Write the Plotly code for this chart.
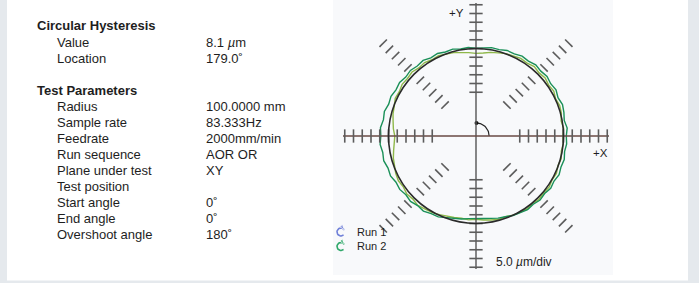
import numpy as np
import plotly.graph_objects as go

# ---------------- data ----------------
angles_deg = list(range(0, 360, 5))
run1_dev_um = [-0.4, 0.3, -0.6, 0.5, 0.9, 0.2, 1.3, 0.7, 1.6, 1.0, 1.8, 0.9, 1.2, 0.3, 0.1, -0.8, -1.5, -2.4,
               -2.8, -2.2, -1.6, -0.7, -0.2, 0.6, 0.3, 1.2, 0.8, 1.7, 1.1, 1.5, 0.6, 0.9, -0.3, -0.9, -1.9, -2.6,
               -3.6, -3.0, -2.2, -1.1, -0.3, 0.6, 1.2, 0.7, 1.6, 1.0, 1.8, 0.9, 0.4, -0.4, -1.1, -1.8, -2.3, -1.9,
               -2.4, -1.8, -1.3, -0.6, -0.9, -0.1, 0.4, 0.9, 0.3, 1.1, 0.5, 1.0, 0.2, 0.7, -0.2, 0.4, -0.5, 0.1]
run2_dev_um = [1.6, 2.3, 1.2, 2.0, 2.6, 1.7, 2.8, 2.1, 3.0, 2.4, 3.1, 2.2, 2.7, 1.8, 2.0, 1.1, 1.3, 0.4,
               0.2, 0.8, 0.5, 1.4, 1.1, 2.0, 1.6, 2.7, 2.2, 3.0, 2.4, 3.3, 2.8, 3.6, 3.1, 4.2, 3.7, 4.8,
               4.4, 5.0, 4.1, 4.6, 3.5, 3.9, 2.8, 3.2, 2.3, 2.9, 1.9, 2.4, 1.2, 1.0, -0.2, -1.0, -1.8, -2.6,
               -3.0, -2.7, -2.2, -1.4, -0.9, 0.1, 0.6, 1.4, 0.9, 1.8, 1.2, 2.1, 1.5, 2.4, 1.7, 2.2, 1.4, 2.0]
nominal_um = 50          # nominal circle drawn at 10 divisions
div_um = 5.0             # 5.0 um/div
tick_offsets_div = [-5, -4, -3, -2, -1, 0, 1, 2, 3, 4, 5]
tick_dirs_deg = [0, 45, 90, 135, 180, 225, 270, 315]

section1_title = "Circular Hysteresis"
section1_labels = ["Value", "Location"]
section1_values = ["8.1 <i>µ</i>m", "179.0˚"]
section2_title = "Test Parameters"
section2_labels = ["Radius", "Sample rate", "Feedrate", "Run sequence", "Plane under test",
                   "Test position", "Start angle", "End angle", "Overshoot angle"]
section2_values = ["100.0000 mm", "83.333Hz", "2000mm/min", "AOR OR", "XY", "", "0˚", "0˚", "180˚"]
legend_names = ["Run 1", "Run 2"]
legend_icon_colors = ["#7080d8", "#2fa86a"]
run_colors = ["#8fb84a", "#1a9058"]

# ---------------- geometry helpers ----------------
W, H = 699, 283
CX, CY = 476, 136       # centre of polar plot, px
S = 1.75                # px per um
xr = [-CX / S, (W - CX) / S]
yr = [-(H - CY) / S, CY / S]

def px(x):
    return x / W

def py(y):
    return 1 - y / H

def dx(xp):   # pixel -> data
    return (xp - CX) / S

def dy(yp):
    return (CY - yp) / S

fig = go.Figure()
shapes = []

# page background panels
shapes.append(dict(type="rect", xref="paper", yref="paper", x0=px(7), x1=px(688), y0=py(280.5), y1=1,
                   fillcolor="white", line=dict(width=0), layer="below"))
shapes.append(dict(type="rect", xref="paper", yref="paper", x0=px(333), x1=px(613), y0=py(275), y1=1,
                   fillcolor="#f8f9fb", line=dict(width=0), layer="below"))

# axis lines
ax_len = 76
shapes.append(dict(type="line", x0=0, x1=0, y0=-ax_len, y1=ax_len, line=dict(color="#555555", width=1.4)))
shapes.append(dict(type="line", x0=-ax_len, x1=ax_len, y0=0, y1=0, line=dict(color="#6a4a44", width=1.4)))

# radial tick marks
for d in tick_dirs_deg:
    th = np.deg2rad(d)
    diag = d % 90 != 0
    half = 3.0 if diag else 3.8
    for k in tick_offsets_div:
        if diag and k == 0:
            continue
        r = nominal_um + k * div_um
        cx, cy = r * np.cos(th), r * np.sin(th)
        tx, ty = -np.sin(th), np.cos(th)
        shapes.append(dict(type="line", x0=cx - half * tx, x1=cx + half * tx, y0=cy - half * ty, y1=cy + half * ty,
                           line=dict(color="#5c5c5c", width=1.6)))

# nominal reference circle
shapes.append(dict(type="circle", x0=-nominal_um, x1=nominal_um, y0=-nominal_um, y1=nominal_um,
                   line=dict(color="#2a2a2a", width=1.6)))

fig.update_layout(shapes=shapes)

# small angle arc near centre
arc_t = np.deg2rad(np.linspace(90, 0, 20))
fig.add_trace(go.Scatter(x=7.5 * np.cos(arc_t), y=7.5 * np.sin(arc_t), mode="lines",
                         line=dict(color="#222", width=1.2), hoverinfo="skip", showlegend=False))
fig.add_trace(go.Scatter(x=[0.3], y=[7.5], mode="markers", marker=dict(color="#111", size=4),
                         hoverinfo="skip", showlegend=False))

# runs
def trace_xy(devs):
    th = np.deg2rad(np.array(angles_deg + [angles_deg[0]], dtype=float))
    r = nominal_um + np.array(devs + [devs[0]], dtype=float)
    return r * np.cos(th), r * np.sin(th)

for devs, name, col in zip([run1_dev_um, run2_dev_um], legend_names, run_colors):
    xs, ys = trace_xy(devs)
    fig.add_trace(go.Scatter(x=xs, y=ys, mode="lines", name=name,
                             line=dict(color=col, width=1.4), showlegend=False))

# legend icons: circular arrows
icon_t = np.deg2rad(np.linspace(-50, -330, 24))
for i, col in enumerate(legend_icon_colors):
    icx, icy = 341, 232 + 14.5 * i
    rr = 4.0
    xs = dx(icx + rr * np.cos(icon_t))
    ys = dy(icy - rr * np.sin(icon_t))
    sizes = [0] * (len(icon_t) - 1) + [6]
    fig.add_trace(go.Scatter(x=xs, y=ys, mode="lines+markers", line=dict(color=col, width=1.6),
                             marker=dict(symbol="arrow", size=sizes, color=col, angleref="previous"),
                             hoverinfo="skip", showlegend=False))

# ---------------- text ----------------
FONT = "Liberation Sans, Arial, Helvetica, sans-serif"
ann = []

def add_text(x, y, text, size=13, bold=False, color="#1e1e1e", xanchor="left"):
    ann.append(dict(xref="paper", yref="paper", x=px(x), y=py(y), text=f"<b>{text}</b>" if bold else text,
                    showarrow=False, xanchor=xanchor, yanchor="middle",
                    font=dict(family=FONT, size=size, color=color)))

add_text(35, 26, section1_title, 13, True)
for i, (lab, val) in enumerate(zip(section1_labels, section1_values)):
    y = 42.5 + i * 15.8
    add_text(55, y, lab)
    add_text(204, y, val)

add_text(35, 90.5, section2_title, 13, True)
for i, (lab, val) in enumerate(zip(section2_labels, section2_values)):
    y = 106.8 + i * 15.9
    add_text(55, y, lab)
    if val:
        add_text(204, y, val)

add_text(447, 13, "+Y", 11.5)
add_text(591, 153, "+X", 11.5)
add_text(494, 262, "5.0 <i>µ</i>m/div", 12)
add_text(355, 232, legend_names[0], 11)
add_text(355, 246, legend_names[1], 11)

fig.update_layout(
    annotations=ann,
    width=W, height=H,
    margin=dict(l=0, r=0, t=0, b=0),
    paper_bgcolor="#e5e9ed",
    plot_bgcolor="rgba(0,0,0,0)",
    xaxis=dict(range=xr, visible=False, showgrid=False, zeroline=False, fixedrange=True),
    yaxis=dict(range=yr, visible=False, showgrid=False, zeroline=False, fixedrange=True),
    showlegend=False,
    hovermode=False,
)

fig.write_html("out.html", config={"displayModeBar": False},
               post_script="document.body.style.margin='0';document.body.style.overflow='hidden';")
